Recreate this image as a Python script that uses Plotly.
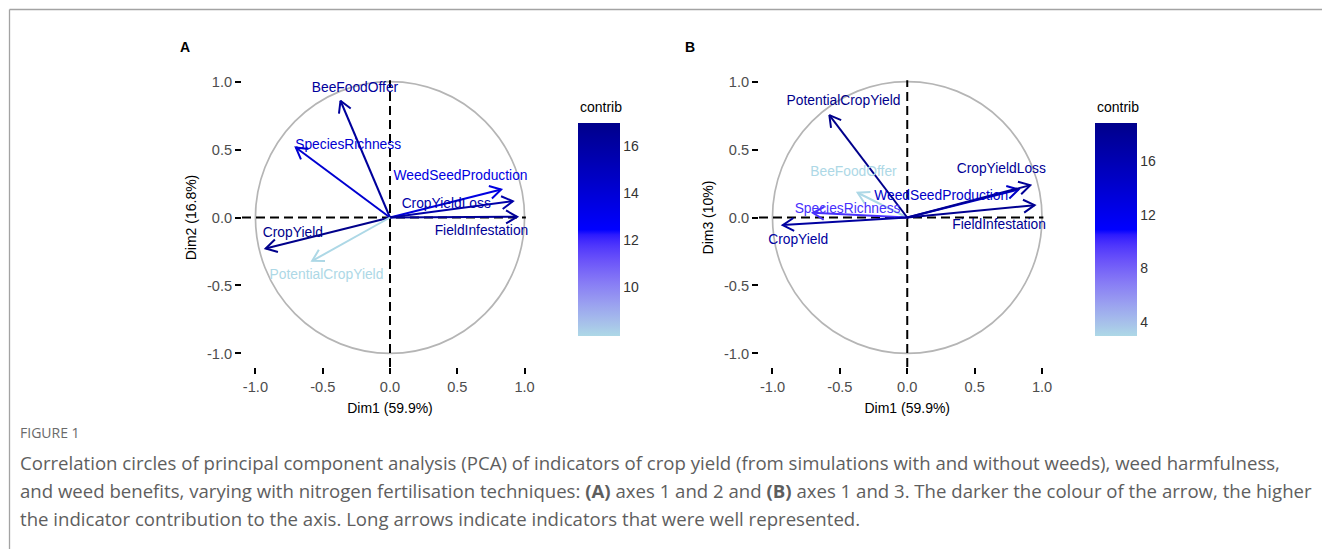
import math
import plotly.graph_objects as go
from plotly.colors import sample_colorscale

# ---------------- data ----------------
variables = ["BeeFoodOffer", "SpeciesRichness", "WeedSeedProduction", "CropYieldLoss",
             "FieldInfestation", "CropYield", "PotentialCropYield"]
dim1 = [-0.368, -0.700, 0.826, 0.913, 0.945, -0.924, -0.578]
dim2 = [0.859, 0.515, 0.206, 0.120, 0.005, -0.228, -0.319]
dim3 = [0.182, 0.035, 0.206, 0.238, 0.091, -0.056, 0.753]
contrib_12 = [16.3, 14.2, 13.6, 15.8, 16.5, 17.0, 7.9]
contrib_13 = [3.0, 9.9, 14.6, 18.0, 18.3, 17.3, 18.8]

axis_ticks = [-1.0, -0.5, 0.0, 0.5, 1.0]
axis_ticktext = ["-1.0", "-0.5", "0.0", "0.5", "1.0"]
cbar_ticks_a = [10, 12, 14, 16]
cbar_ticks_b = [4, 8, 12, 16]

xlabel = "Dim1 (59.9%)"
ylabel_a = "Dim2 (16.8%)"
ylabel_b = "Dim3 (10%)"

caption_head = "FIGURE 1"
caption_lines = [
    "Correlation circles of principal component analysis (PCA) of indicators of crop yield (from simulations with and without weeds), weed harmfulness,",
    "and weed benefits, varying with nitrogen fertilisation techniques: <b>(A)</b> axes 1 and 2 and <b>(B)</b> axes 1 and 3. The darker the colour of the arrow, the higher",
    "the indicator contribution to the axis. Long arrows indicate indicators that were well represented.",
]

# label nudges (style: where the repelled labels sit relative to arrow tips)
nudge_a = [(0.108, 0.091), (0.389, 0.013), (-0.302, 0.098), (-0.495, -0.022),
           (-0.265, -0.106), (0.202, 0.110), (0.106, -0.110)]
nudge_b = [(-0.031, 0.149), (0.257, 0.026), (-0.574, -0.054), (-0.215, 0.115),
           (-0.264, -0.147), (0.115, -0.111), (0.105, 0.099)]

# ---------------- styling helpers ----------------
W, H = 1322, 549
def px(x): return x / W
def py(y): return 1 - y / H

def hex_to_rgb(h):
    h = h.lstrip("#")
    return [int(h[i:i + 2], 16) / 255 for i in (0, 2, 4)]

def to_lab(rgb):
    lin = [c / 12.92 if c <= 0.04045 else ((c + 0.055) / 1.055) ** 2.4 for c in rgb]
    X = 0.4124564 * lin[0] + 0.3575761 * lin[1] + 0.1804375 * lin[2]
    Y = 0.2126729 * lin[0] + 0.7151522 * lin[1] + 0.0721750 * lin[2]
    Z = 0.0193339 * lin[0] + 0.1191920 * lin[1] + 0.9503041 * lin[2]
    Xn, Yn, Zn = 0.95047, 1.0, 1.08883
    f = lambda t: t ** (1 / 3) if t > 0.008856 else 7.787 * t + 16 / 116
    fx, fy, fz = f(X / Xn), f(Y / Yn), f(Z / Zn)
    return [116 * fy - 16, 500 * (fx - fy), 200 * (fy - fz)]

def from_lab(lab):
    L, a, b = lab
    fy = (L + 16) / 116
    fx = fy + a / 500
    fz = fy - b / 200
    finv = lambda t: t ** 3 if t ** 3 > 0.008856 else (t - 16 / 116) / 7.787
    X, Y, Z = 0.95047 * finv(fx), 1.0 * finv(fy), 1.08883 * finv(fz)
    r = 3.2404542 * X - 1.5371385 * Y - 0.4985314 * Z
    g = -0.9692660 * X + 1.8760108 * Y + 0.0415560 * Z
    bb = 0.0556434 * X - 0.2040259 * Y + 1.0572252 * Z
    out = []
    for c in (r, g, bb):
        c = 12.92 * c if c <= 0.0031308 else 1.055 * (max(c, 0) ** (1 / 2.4)) - 0.055
        out.append(int(round(min(max(c, 0), 1) * 255)))
    return "rgb(%d,%d,%d)" % tuple(out)

grad_cols = ["#ADD8E6", "#0000FF", "#00008B"]
labs = [to_lab(hex_to_rgb(c)) for c in grad_cols]
colorscale = []
N = 40
for k in range(N + 1):
    t = k / N
    if t <= 0.5:
        u, l0, l1 = t / 0.5, labs[0], labs[1]
    else:
        u, l0, l1 = (t - 0.5) / 0.5, labs[1], labs[2]
    colorscale.append([t, from_lab([l0[j] + (l1[j] - l0[j]) * u for j in range(3)])])

FONT = "Liberation Sans, Arial, sans-serif"
HEAD_LEN = 0.095
HEAD_ANG = math.radians(30)
LIM = 1.1
LINE_END = 1.01

fig = go.Figure()
shapes = []
annotations = []

panels = [
    dict(xa="x", ya="y", ydata=dim2, contrib=contrib_12, nudge=nudge_a,
         dom=(242, 538), cbx=578, cbticks=cbar_ticks_a, cax="coloraxis",
         ylabel=ylabel_a, letter="A", letter_x=185),
    dict(xa="x2", ya="y2", ydata=dim3, contrib=contrib_13, nudge=nudge_b,
         dom=(759, 1055.5), cbx=1095, cbticks=cbar_ticks_b, cax="coloraxis2",
         ylabel=ylabel_b, letter="B", letter_x=690),
]

CB_TOP, CB_BOT, CB_W = 123, 336, 42

layout_axes = {}
for i, p in enumerate(panels):
    xa, ya = p["xa"], p["ya"]
    cmin, cmax = min(p["contrib"]), max(p["contrib"])
    cols = [sample_colorscale(colorscale, [(c - cmin) / (cmax - cmin)])[0] for c in p["contrib"]]

    # circle
    shapes.append(dict(type="circle", xref=xa, yref=ya, x0=-1, x1=1, y0=-1, y1=1,
                       line=dict(color="#B5B5B5", width=1.7), layer="below"))
    # dashed axes lines
    fig.add_trace(go.Scatter(x=[-LIM, LINE_END], y=[0, 0], mode="lines", xaxis=xa, yaxis=ya,
                             line=dict(color="black", width=2, dash="9px,5px"),
                             hoverinfo="skip", showlegend=False))
    fig.add_trace(go.Scatter(x=[0, 0], y=[-LIM, LINE_END], mode="lines", xaxis=xa, yaxis=ya,
                             line=dict(color="black", width=2, dash="9px,5px"),
                             hoverinfo="skip", showlegend=False))
    # arrows
    for vx, vy, col in zip(dim1, p["ydata"], cols):
        ang = math.atan2(vy, vx)
        w1 = (vx - HEAD_LEN * math.cos(ang + HEAD_ANG), vy - HEAD_LEN * math.sin(ang + HEAD_ANG))
        w2 = (vx - HEAD_LEN * math.cos(ang - HEAD_ANG), vy - HEAD_LEN * math.sin(ang - HEAD_ANG))
        fig.add_trace(go.Scatter(x=[0, vx, None, w1[0], vx, w2[0]],
                                 y=[0, vy, None, w1[1], vy, w2[1]],
                                 mode="lines", xaxis=xa, yaxis=ya,
                                 line=dict(color=col, width=2),
                                 hoverinfo="skip", showlegend=False))
    # labels
    lx = [vx + n[0] for vx, n in zip(dim1, p["nudge"])]
    ly = [vy + n[1] for vy, n in zip(p["ydata"], p["nudge"])]
    fig.add_trace(go.Scatter(x=lx, y=ly, mode="text", text=variables, xaxis=xa, yaxis=ya,
                             textposition="middle center", cliponaxis=False,
                             textfont=dict(family=FONT, size=13.8, color=cols),
                             hoverinfo="skip", showlegend=False))
    # invisible marker trace carrying colour scale
    fig.add_trace(go.Scatter(x=dim1, y=p["ydata"], mode="markers", xaxis=xa, yaxis=ya,
                             marker=dict(color=p["contrib"], coloraxis=p["cax"], size=1, opacity=0),
                             hoverinfo="skip", showlegend=False))

    # axes
    sfx = "" if i == 0 else "2"
    common = dict(range=[-LIM, LIM], tickvals=axis_ticks, ticktext=axis_ticktext,
                  ticks="outside", ticklen=6, tickwidth=2.3, tickcolor="black",
                  showline=False, showgrid=False, zeroline=False,
                  tickfont=dict(family=FONT, size=14.6, color="#4D4D4D"), fixedrange=True)
    layout_axes["xaxis" + sfx] = dict(common, domain=[px(p["dom"][0]), px(p["dom"][1])],
                                      anchor=ya,
                                      title=dict(text=xlabel, standoff=9,
                                                 font=dict(family=FONT, size=14, color="black")))
    layout_axes["yaxis" + sfx] = dict(common, domain=[py(367), py(68)], anchor=xa,
                                      title=dict(text=p["ylabel"], standoff=7,
                                                 font=dict(family=FONT, size=14, color="black")))

    # colour axis
    layout_axes[p["cax"]] = dict(
        colorscale=colorscale, cmin=cmin, cmax=cmax,
        colorbar=dict(x=px(p["cbx"]), xanchor="left", y=py(CB_TOP), yanchor="top",
                      len=CB_BOT - CB_TOP, lenmode="pixels", thickness=CB_W,
                      thicknessmode="pixels", xpad=0, ypad=0, outlinewidth=0,
                      ticks="", tickvals=p["cbticks"],
                      tickfont=dict(family=FONT, size=14, color="#333333")))
    # white ticks on both sides of the colour bar
    for v in p["cbticks"]:
        yy = CB_BOT - (v - cmin) / (cmax - cmin) * (CB_BOT - CB_TOP)
        for xs in (p["cbx"], p["cbx"] + CB_W - 8):
            shapes.append(dict(type="line", xref="paper", yref="paper",
                               x0=px(xs), x1=px(xs + 8), y0=py(yy), y1=py(yy),
                               line=dict(color="white", width=1.2), layer="above"))
    annotations.append(dict(text="contrib", xref="paper", yref="paper", x=px(p["cbx"]),
                            y=py(107), xanchor="left", yanchor="middle", showarrow=False,
                            font=dict(family=FONT, size=14, color="black")))
    annotations.append(dict(text="<b>%s</b>" % p["letter"], xref="paper", yref="paper",
                            x=px(p["letter_x"]), y=py(47), xanchor="center", yanchor="middle",
                            showarrow=False, font=dict(family=FONT, size=14, color="black")))

# caption
CAP_FONT = "Open Sans, Noto Sans, sans-serif"
annotations.append(dict(text=caption_head, xref="paper", yref="paper", x=px(18), y=py(432),
                        xanchor="left", yanchor="middle", showarrow=False,
                        font=dict(family=CAP_FONT, size=14, color="#6A6A6A")))
for k, line in enumerate(caption_lines):
    annotations.append(dict(text=line, xref="paper", yref="paper", x=px(18), y=py(462 + 28 * k),
                            xanchor="left", yanchor="middle", showarrow=False,
                            font=dict(family=CAP_FONT, size=18.6, color="#5E5E5E")))

# frame lines
shapes.append(dict(type="line", xref="paper", yref="paper", x0=px(9.5), x1=1,
                   y0=py(9.5), y1=py(9.5), line=dict(color="#A3A3A3", width=1.3)))
shapes.append(dict(type="line", xref="paper", yref="paper", x0=px(9.5), x1=px(9.5),
                   y0=0, y1=py(9.5), line=dict(color="#A3A3A3", width=1.3)))

fig.update_layout(width=W, height=H, margin=dict(l=0, r=0, t=0, b=0),
                  paper_bgcolor="white", plot_bgcolor="white",
                  shapes=shapes, annotations=annotations, showlegend=False,
                  **layout_axes)

fig.write_html("out.html", config={"displayModeBar": False},
               post_script="document.body.style.margin='0';document.body.style.overflow='hidden';")
